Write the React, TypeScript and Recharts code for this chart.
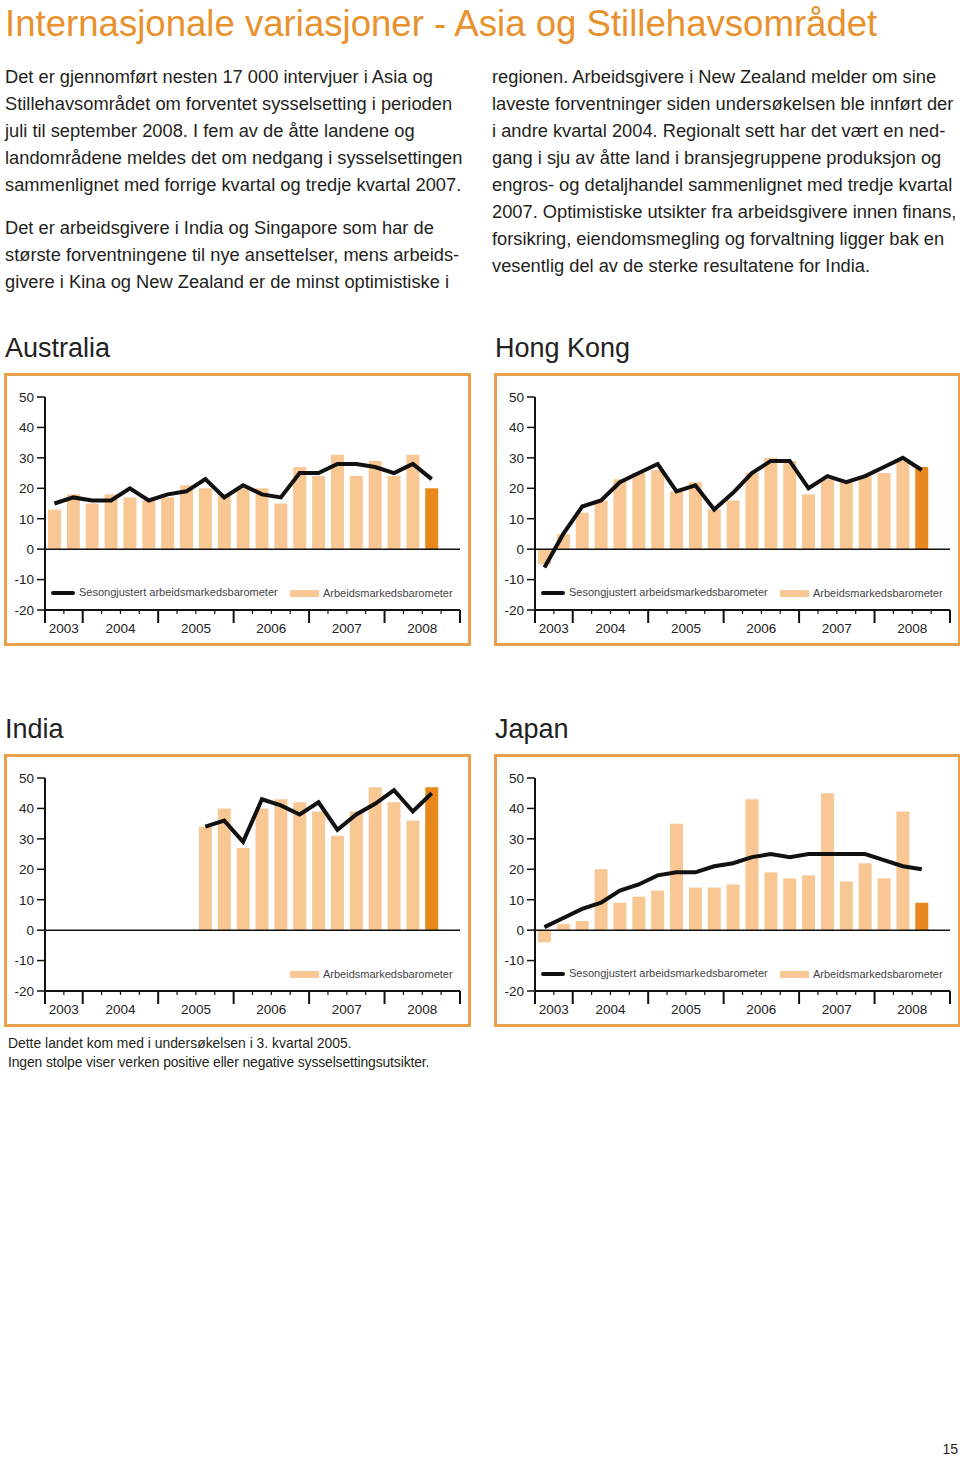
import React from "react";
import { Bar, Cell, ComposedChart, Legend, Line, ReferenceLine, XAxis, YAxis } from "recharts";

const FONT = '"Liberation Sans", Arial, Helvetica, sans-serif';

// quarters on the x axis: 2003 K3 .. 2008 K4
const QUARTERS = [
  "2003 K3", "2003 K4",
  "2004 K1", "2004 K2", "2004 K3", "2004 K4",
  "2005 K1", "2005 K2", "2005 K3", "2005 K4",
  "2006 K1", "2006 K2", "2006 K3", "2006 K4",
  "2007 K1", "2007 K2", "2007 K3", "2007 K4",
  "2008 K1", "2008 K2", "2008 K3", "2008 K4",
];
const Y_TICKS = [-20, -10, 0, 10, 20, 30, 40, 50];

const AUSTRALIA_BARS = [13, 18, 15, 18, 17, 16, 17, 21, 20, 18, 20, 20, 15, 27, 24, 31, 24, 29, 24, 31, 20];
const AUSTRALIA_LINE = [15, 17, 16, 16, 20, 16, 18, 19, 23, 17, 21, 18, 17, 25, 25, 28, 28, 27, 25, 28, 23];

const HONGKONG_BARS = [-5, 5, 12, 16, 23, 25, 26, 19, 22, 13, 16, 25, 30, 29, 18, 23, 22, 24, 25, 29, 27];
const HONGKONG_LINE = [-6, 5, 14, 16, 22, 25, 28, 19, 21, 13, 18.5, 25, 29, 29, 20, 24, 22, 24, 27, 30, 26];

const INDIA_BARS = [null, null, null, null, null, null, null, null, 34, 40, 27, 40, 43, 42, 39, 31, 39, 47, 42, 36, 47];
const INDIA_LINE = [null, null, null, null, null, null, null, null, 34, 36, 29, 43, 41, 38, 42, 33, 38, 41.5, 46, 39, 45];

const JAPAN_BARS = [-4, 2, 3, 20, 9, 11, 13, 35, 14, 14, 15, 43, 19, 17, 18, 45, 16, 22, 17, 39, 9];
const JAPAN_LINE = [1, 4, 7, 9, 13, 15, 18, 19, 19, 21, 22, 24, 25, 24, 25, 25, 25, 25, 23, 21, 20];

const LEFT_TEXT = [
  "Det er gjennomført nesten 17 000 intervjuer i Asia og",
  "Stillehavsområdet om forventet sysselsetting i perioden",
  "juli til september 2008. I fem av de åtte landene og",
  "landområdene meldes det om nedgang i sysselsettingen",
  "sammenlignet med forrige kvartal og tredje kvartal 2007.",
];
const LEFT_TEXT_2 = [
  "Det er arbeidsgivere i India og Singapore som har de",
  "største forventningene til nye ansettelser, mens arbeids-",
  "givere i Kina og New Zealand er de minst optimistiske i",
];
const RIGHT_TEXT = [
  "regionen. Arbeidsgivere i New Zealand melder om sine",
  "laveste forventninger siden undersøkelsen ble innført der",
  "i andre kvartal 2004. Regionalt sett har det vært en ned-",
  "gang i sju av åtte land i bransjegruppene produksjon og",
  "engros- og detaljhandel sammenlignet med tredje kvartal",
  "2007. Optimistiske utsikter fra arbeidsgivere innen finans,",
  "forsikring, eiendomsmegling og forvaltning ligger bak en",
  "vesentlig del av de sterke resultatene for India.",
];

const LINE_NAME = "Sesongjustert arbeidsmarkedsbarometer";
const BAR_NAME = "Arbeidsmarkedsbarometer";

const BAR_COLOR = "#f8c794";
const FORECAST_COLOR = "#e8871c";
const BORDER_COLOR = "#eaa04b";

// year boundaries and label positions, derived from the quarter list
const yearOf = (q: string) => q.slice(0, 4);
const YEAR_BOUNDS: number[] = [0];
QUARTERS.forEach((q, i) => {
  if (i > 0 && yearOf(q) !== yearOf(QUARTERS[i - 1])) YEAR_BOUNDS.push(i);
});
YEAR_BOUNDS.push(QUARTERS.length);
const YEAR_LABELS = YEAR_BOUNDS.slice(0, -1).map((b, i) => ({
  year: yearOf(QUARTERS[b]),
  pos: (b + YEAR_BOUNDS[i + 1]) / 2,
}));
const X_TICKS = QUARTERS.map((_, i) => i).concat(QUARTERS.length);

function QuarterTick(props: any) {
  const { x, y, payload } = props;
  const v = payload.value;
  const major = YEAR_BOUNDS.includes(v);
  const label = YEAR_LABELS.find((l) => l.pos === v);
  return (
    <g>
      <line x1={x} x2={x} y1={y} y2={y + (major ? 13 : 4)} stroke="#111" strokeWidth={major ? 2 : 1.2} />
      {label && (
        <text x={x} y={y + 23} textAnchor="middle" fontSize={13.5} fill="#222" fontFamily={FONT}>
          {label.year}
        </text>
      )}
    </g>
  );
}

function LegendRow({ showLine }: { showLine: boolean }) {
  const txt: React.CSSProperties = {
    position: "absolute",
    fontSize: 11,
    lineHeight: "11px",
    color: "#444",
    fontFamily: FONT,
    whiteSpace: "nowrap",
  };
  return (
    <div style={{ position: "relative", width: 465, height: 0 }}>
      {showLine && (
        <>
          <div style={{ position: "absolute", left: 46, top: 216, width: 24, height: 4, background: "#111", borderRadius: 2 }} />
          <div style={{ ...txt, left: 74, top: 212 }}>{LINE_NAME}</div>
        </>
      )}
      <div style={{ position: "absolute", left: 285, top: 215, width: 29, height: 7, background: BAR_COLOR }} />
      <div style={{ ...txt, left: 318, top: 213 }}>{BAR_NAME}</div>
    </div>
  );
}

function Panel({
  title,
  left,
  top,
  bars,
  line,
  lineInLegend = true,
}: {
  title: string;
  left: number;
  top: number;
  bars: (number | null)[];
  line: (number | null)[];
  lineInLegend?: boolean;
}) {
  const data = QUARTERS.map((q, i) => ({
    q,
    x: i + 0.5,
    bar: bars[i] ?? null,
    line: line[i] ?? null,
  }));
  let forecast = -1;
  bars.forEach((b, i) => {
    if (b !== null && b !== undefined) forecast = i;
  });
  return (
    <>
      <Txt x={left} baseline={top - 17.5} size={27} color="#222">
        {title}
      </Txt>
      <div
        style={{
          position: "absolute",
          left: left - 1,
          top: top - 2,
          width: 467,
          height: 273,
          border: `3px solid ${BORDER_COLOR}`,
          boxSizing: "border-box",
        }}
      />
      <div style={{ position: "absolute", left, top }}>
        <ComposedChart width={465} height={270} data={data} margin={{ top: 22, right: 10, bottom: 0, left: 0 }}>
          <XAxis
            dataKey="x"
            type="number"
            domain={[0, QUARTERS.length]}
            ticks={X_TICKS}
            interval={0}
            tickLine={false}
            tickSize={0}
            tickMargin={0}
            height={35}
            axisLine={{ stroke: "#111", strokeWidth: 2 }}
            tick={<QuarterTick />}
          />
          <YAxis
            type="number"
            domain={[-20, 50]}
            ticks={Y_TICKS}
            interval={0}
            width={40}
            tickSize={8}
            tickMargin={3}
            axisLine={{ stroke: "#111", strokeWidth: 2 }}
            tickLine={{ stroke: "#111", strokeWidth: 1.5 }}
            tick={{ fontSize: 13.5, fill: "#222", fontFamily: FONT }}
          />
          <Bar dataKey="bar" name={BAR_NAME} barSize={13} isAnimationActive={false}>
            {data.map((_, i) => (
              <Cell key={i} fill={i === forecast ? FORECAST_COLOR : BAR_COLOR} />
            ))}
          </Bar>
          <ReferenceLine y={0} stroke="#111" strokeWidth={1.5} />
          <Line
            dataKey="line"
            name={LINE_NAME}
            type="linear"
            stroke="#111"
            strokeWidth={4}
            dot={false}
            activeDot={false}
            isAnimationActive={false}
          />
          <Legend
            layout="horizontal"
            verticalAlign="middle"
            align="center"
            wrapperStyle={{ left: 0, top: 0, width: 465, height: 0 }}
            content={() => <LegendRow showLine={lineInLegend} />}
          />
        </ComposedChart>
      </div>
    </>
  );
}

function Txt({ x, baseline, size, color, children }: { x: number; baseline: number; size: number; color?: string; children: React.ReactNode }) {
  return (
    <div
      style={{
        position: "absolute",
        left: x,
        top: baseline - 0.8465 * size,
        fontSize: size,
        lineHeight: `${size}px`,
        color: color ?? "#231f20",
        whiteSpace: "nowrap",
      }}
    >
      {children}
    </div>
  );
}

export default function App() {
  return (
    <div
      style={{
        position: "absolute",
        left: 0,
        top: 0,
        width: 960,
        height: 1458,
        background: "#fff",
        fontFamily: FONT,
        overflow: "hidden",
      }}
    >
      <Txt x={5} baseline={37} size={36.6} color="#e8912d">
        Internasjonale variasjoner - Asia og Stillehavsområdet
      </Txt>
      {LEFT_TEXT.map((t, i) => (
        <Txt key={"l" + i} x={5} baseline={83.5 + i * 27} size={18.3}>
          {t}
        </Txt>
      ))}
      {LEFT_TEXT_2.map((t, i) => (
        <Txt key={"m" + i} x={5} baseline={234.5 + i * 27} size={18.3}>
          {t}
        </Txt>
      ))}
      {RIGHT_TEXT.map((t, i) => (
        <Txt key={"r" + i} x={492} baseline={83.5 + i * 27} size={18.3}>
          {t}
        </Txt>
      ))}

      <Panel title="Australia" left={5} top={375} bars={AUSTRALIA_BARS} line={AUSTRALIA_LINE} />
      <Panel title="Hong Kong" left={495} top={375} bars={HONGKONG_BARS} line={HONGKONG_LINE} />
      {/* India's legend only names the bars, although the line is drawn */}
      <Panel title="India" left={5} top={756} bars={INDIA_BARS} line={INDIA_LINE} lineInLegend={false} />
      <Panel title="Japan" left={495} top={756} bars={JAPAN_BARS} line={JAPAN_LINE} />

      <Txt x={8} baseline={1049} size={13.9}>
        Dette landet kom med i undersøkelsen i 3. kvartal 2005.
      </Txt>
      <div
        style={{
          position: "absolute",
          left: 8,
          top: 1068 - 0.8465 * 13.9,
          fontSize: 13.9,
          lineHeight: "13.9px",
          letterSpacing: -0.12,
          color: "#231f20",
          whiteSpace: "nowrap",
        }}
      >
        Ingen stolpe viser verken positive eller negative sysselsettingsutsikter.
      </div>
      <div
        style={{
          position: "absolute",
          right: 2,
          top: 1442,
          fontSize: 14,
          lineHeight: "14px",
          color: "#231f20",
        }}
      >
        15
      </div>
    </div>
  );
}
